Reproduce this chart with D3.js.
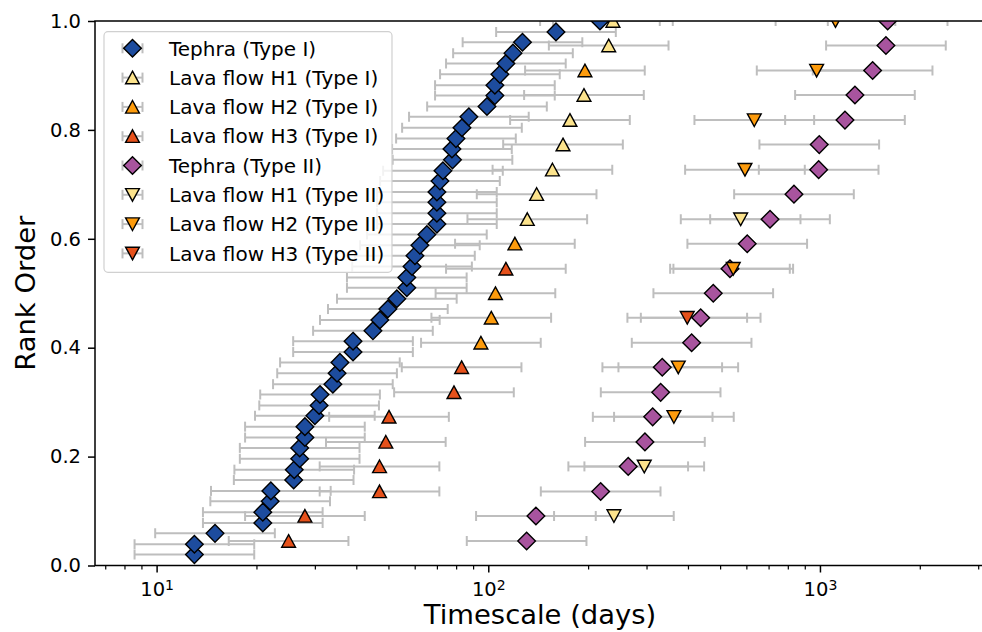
<!DOCTYPE html>
<html lang="en">
<head>
<meta charset="utf-8">
<title>Rank order of timescales</title>
<script src="https://cdn.jsdelivr.net/npm/d3@7"></script>
<style>
  body { margin: 0; background: #fff; }
  svg { font-family: "DejaVu Sans", sans-serif; }
</style>
</head>
<body>
<script>

// Timescales (days), with their rank order
var tephraI_x = [13.0, 13.0, 15.0, 20.9, 20.9, 22.0, 22.1, 25.9, 26.0, 27.0, 27.0, 28.0, 28.0, 30.0, 30.9, 31.1,
                 34.0, 35.0, 35.7, 39.1, 39.1, 44.9, 47.1, 49.8, 53.0, 56.8, 56.8, 58.9, 60.1, 62.2, 65.3, 70.0,
                 70.0, 70.0, 70.0, 71.5, 73.0, 78.0, 77.7, 79.9, 83.3, 87.4, 99.1, 104.7, 104.7, 108.4, 113.0,
                 118.7, 126.8, 160.0, 217.1];
var tephraI_r = [0.020, 0.039, 0.059, 0.078, 0.098, 0.118, 0.137, 0.157, 0.176, 0.196, 0.216, 0.235, 0.255,
                 0.275, 0.294, 0.314, 0.333, 0.353, 0.373, 0.392, 0.412, 0.431, 0.451, 0.471, 0.490, 0.510,
                 0.529, 0.549, 0.569, 0.588, 0.608, 0.627, 0.647, 0.667, 0.686, 0.706, 0.725, 0.745, 0.765,
                 0.784, 0.804, 0.824, 0.843, 0.863, 0.882, 0.902, 0.922, 0.941, 0.961, 0.980, 1.000];

var lavaH1_I_x = [131.1, 139.9, 156.1, 168.0, 176.3, 194.3, 230.7, 237.6];
var lavaH1_I_r = [0.636, 0.682, 0.727, 0.773, 0.818, 0.864, 0.955, 1.000];
var lavaH2_I_x = [95.0, 102.1, 105.1, 120.3, 195.6];
var lavaH2_I_r = [0.409, 0.455, 0.500, 0.591, 0.909];
var lavaH3_I_x = [25.0, 28.0, 47.0, 47.0, 49.1, 50.2, 78.8, 83.1, 113.0];
var lavaH3_I_r = [0.045, 0.091, 0.136, 0.182, 0.227, 0.273, 0.318, 0.364, 0.545];

var tephraII_x = [130.5, 139.2, 218.2, 264.2, 296.7, 313.1, 330.9, 334.6, 410.3, 436.9, 476.8, 535.4, 603.6,
                  707.0, 835.0, 991.1, 995.2, 1189.7, 1275, 1441.5, 1581, 1600];
var tephraII_r = [0.045, 0.091, 0.136, 0.182, 0.227, 0.273, 0.318, 0.364, 0.409, 0.455, 0.500, 0.545, 0.591,
                  0.636, 0.682, 0.727, 0.773, 0.818, 0.864, 0.909, 0.955, 1.000];

var lavaH1_II_x = [239.2, 295.3, 576.6];
var lavaH1_II_r = [0.091, 0.182, 0.636];
var lavaH2_II_x = [362.8, 374.0, 547.8, 594.1, 633.9, 977.2, 1113.7];
var lavaH2_II_r = [0.273, 0.364, 0.545, 0.727, 0.818, 0.909, 1.000];
var lavaH3_II_x = [398.0];
var lavaH3_II_r = [0.455];

// multiplicative uncertainty shown by the error bars
var errFactor = 1.515;

var seriesNames = ["Tephra (Type I)", "Lava flow H1 (Type I)", "Lava flow H2 (Type I)", "Lava flow H3 (Type I)",
                   "Tephra (Type II)", "Lava flow H1 (Type II)", "Lava flow H2 (Type II)", "Lava flow H3 (Type II)"];
var xMajor = [10, 100, 1000];
var xMinor = [7, 8, 9, 20, 30, 40, 50, 60, 70, 80, 90, 200, 300, 400, 500, 600, 700, 800, 900, 2000, 3000];
var yTicks = [0, 0.2, 0.4, 0.6, 0.8, 1.0];

var series = [
  {name: seriesNames[0], xs: tephraI_x,   rs: tephraI_r,   shape: "D", fill: "#1d4c9e"},
  {name: seriesNames[1], xs: lavaH1_I_x,  rs: lavaH1_I_r,  shape: "^", fill: "#fce38c"},
  {name: seriesNames[2], xs: lavaH2_I_x,  rs: lavaH2_I_r,  shape: "^", fill: "#fd9b0c"},
  {name: seriesNames[3], xs: lavaH3_I_x,  rs: lavaH3_I_r,  shape: "^", fill: "#e6511b"},
  {name: seriesNames[4], xs: tephraII_x,  rs: tephraII_r,  shape: "D", fill: "#a8549e"},
  {name: seriesNames[5], xs: lavaH1_II_x, rs: lavaH1_II_r, shape: "v", fill: "#fce38c"},
  {name: seriesNames[6], xs: lavaH2_II_x, rs: lavaH2_II_r, shape: "v", fill: "#fd9b0c"},
  {name: seriesNames[7], xs: lavaH3_II_x, rs: lavaH3_II_r, shape: "v", fill: "#e6511b"}
];

//Width, height and plot box
var w = 982, h = 632;
var plotL = 95, plotR = 985, plotT = 21, plotB = 565.5;

var x = d3.scaleLog().domain([6.52, 3145]).range([plotL, plotR]);
var y = d3.scaleLinear().domain([0, 1]).range([plotB, plotT]);

function markerPath(shape) {
  if (shape == "D") return "M0,-8.8L8.8,0L0,8.8L-8.8,0Z";
  if (shape == "^") return "M0,-6.4L6.9,6.2L-6.9,6.2Z";
  return "M0,6.4L6.9,-6.2L-6.9,-6.2Z";
}

var svg = d3.select("body").append("svg")
            .attr("width", w)
            .attr("height", h);

svg.append("clipPath").attr("id", "plotclip")
   .append("rect")
   .attr("x", plotL).attr("y", plotT)
   .attr("width", plotR - plotL).attr("height", plotB - plotT);

var plot = svg.append("g").attr("clip-path", "url(#plotclip)");

var barColor = "#bebebe";

//Error bars first, all series
series.forEach(function(s) {
  var pts = s.xs.map(function(v, i) { return {v: v, r: s.rs[i]}; });
  var g = plot.append("g");
  g.selectAll("line.bar").data(pts).enter().append("line")
   .attr("x1", function(d) { return x(d.v / errFactor); })
   .attr("x2", function(d) { return x(d.v * errFactor); })
   .attr("y1", function(d) { return y(d.r); })
   .attr("y2", function(d) { return y(d.r); })
   .attr("stroke", barColor).attr("stroke-width", 2);
  [1 / errFactor, errFactor].forEach(function(f) {
    g.selectAll(null).data(pts).enter().append("line")
     .attr("x1", function(d) { return x(d.v * f); })
     .attr("x2", function(d) { return x(d.v * f); })
     .attr("y1", function(d) { return y(d.r) - 5; })
     .attr("y2", function(d) { return y(d.r) + 5; })
     .attr("stroke", barColor).attr("stroke-width", 2);
  });
});

//Markers on top
series.forEach(function(s) {
  var pts = s.xs.map(function(v, i) { return {v: v, r: s.rs[i]}; });
  plot.append("g").selectAll("path").data(pts).enter().append("path")
      .attr("d", markerPath(s.shape))
      .attr("transform", function(d) { return "translate(" + x(d.v) + "," + y(d.r) + ")"; })
      .attr("fill", s.fill)
      .attr("stroke", "#000")
      .attr("stroke-width", 1.4);
});

//Axes
var gx = svg.append("g").attr("transform", "translate(0," + plotB + ")")
            .call(d3.axisBottom(x).tickValues(xMajor).tickSize(7).tickPadding(10)
                    .tickFormat(function() { return ""; }));
gx.select(".domain").remove();
gx.selectAll(".tick line").attr("stroke", "#000").attr("stroke-width", 1.5);
gx.selectAll(".tick text").each(function(d) {
  var t = d3.select(this);
  t.attr("font-family", "DejaVu Sans").attr("font-size", 19.5).attr("fill", "#000");
  t.append("tspan").text("10");
  t.append("tspan").attr("dy", "-0.42em").attr("font-size", "0.72em").text(Math.round(Math.log10(d)));
});

var gxm = svg.append("g").attr("transform", "translate(0," + plotB + ")")
             .call(d3.axisBottom(x).tickValues(xMinor).tickSize(4).tickFormat(function() { return ""; }));
gxm.select(".domain").remove();
gxm.selectAll(".tick line").attr("stroke", "#000").attr("stroke-width", 1.2);

var gy = svg.append("g").attr("transform", "translate(" + plotL + ",0)")
            .call(d3.axisLeft(y).tickValues(yTicks).tickSize(7).tickPadding(7).tickFormat(d3.format(".1f")));
gy.select(".domain").remove();
gy.selectAll(".tick line").attr("stroke", "#000").attr("stroke-width", 1.5);
gy.selectAll(".tick text").attr("font-family", "DejaVu Sans").attr("font-size", 19.5).attr("fill", "#000");

//Spines
svg.append("rect")
   .attr("x", plotL).attr("y", plotT)
   .attr("width", plotR - plotL).attr("height", plotB - plotT)
   .attr("fill", "none").attr("stroke", "#000").attr("stroke-width", 1.5);

//Axis labels
svg.append("text")
   .attr("x", (plotL + plotR) / 2).attr("y", 624)
   .attr("text-anchor", "middle").attr("font-size", 27.4)
   .text("Timescale (days)");

svg.append("text")
   .attr("transform", "translate(35," + ((plotT + plotB) / 2) + ") rotate(-90)")
   .attr("text-anchor", "middle").attr("font-size", 27.4)
   .text("Rank Order");

//Legend
var legend = svg.append("g");
legend.append("rect")
      .attr("x", 104).attr("y", 31.7).attr("width", 288).attr("height", 240.6)
      .attr("rx", 4).attr("fill", "#fff").attr("fill-opacity", 0.8)
      .attr("stroke", "#d0d0d0").attr("stroke-width", 1.2);

var items = legend.selectAll("g.item").data(series).enter().append("g")
                  .attr("transform", function(d, i) { return "translate(0," + (48.3 + i * 29.3) + ")"; });
items.append("line").attr("x1", 122.5).attr("x2", 142.5).attr("y1", 0).attr("y2", 0)
     .attr("stroke", barColor).attr("stroke-width", 2);
[122.5, 142.5].forEach(function(cx) {
  items.append("line").attr("x1", cx).attr("x2", cx).attr("y1", -5).attr("y2", 5)
       .attr("stroke", barColor).attr("stroke-width", 2);
});
items.append("path")
     .attr("d", function(d) { return markerPath(d.shape); })
     .attr("transform", "translate(132.5,0)")
     .attr("fill", function(d) { return d.fill; })
     .attr("stroke", "#000").attr("stroke-width", 1.4);
items.append("text")
     .attr("x", 169).attr("dy", "0.36em")
     .attr("font-size", 20)
     .text(function(d) { return d.name; });

</script>
</body>
</html>
